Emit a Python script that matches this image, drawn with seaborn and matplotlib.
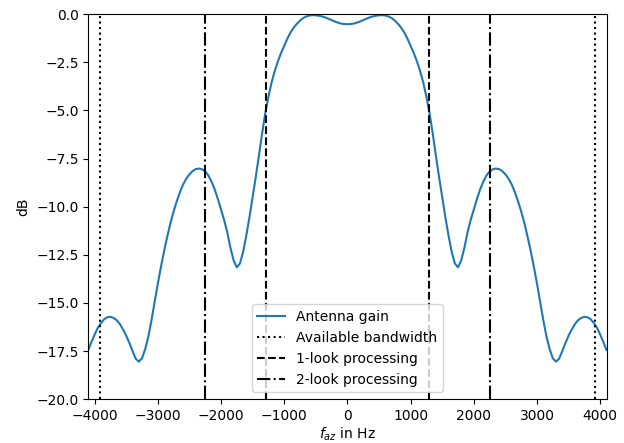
import matplotlib
matplotlib.use("Agg")
import matplotlib.pyplot as plt
import seaborn as sns
import pandas as pd

# antenna gain (symmetric about 0 Hz), 50 Hz steps
f_az = [-4100, -4050, -4000, -3950, -3900, -3850, -3800, -3750, -3700, -3650,
        -3600, -3550, -3500, -3450, -3400, -3350, -3300, -3250, -3200, -3150,
        -3100, -3050, -3000, -2950, -2900, -2850, -2800, -2750, -2700, -2650,
        -2600, -2550, -2500, -2450, -2400, -2350, -2300, -2250, -2200, -2150,
        -2100, -2050, -2000, -1950, -1900, -1850, -1800, -1750, -1700, -1650,
        -1600, -1550, -1500, -1450, -1400, -1350, -1300, -1250, -1200, -1150,
        -1100, -1050, -1000, -950, -900, -850, -800, -750, -700, -650,
        -600, -550, -500, -450, -400, -350, -300, -250, -200, -150,
        -100, -50, 0, 50, 100, 150, 200, 250, 300, 350,
        400, 450, 500, 550, 600, 650, 700, 750, 800, 850,
        900, 950, 1000, 1050, 1100, 1150, 1200, 1250, 1300, 1350,
        1400, 1450, 1500, 1550, 1600, 1650, 1700, 1750, 1800, 1850,
        1900, 1950, 2000, 2050, 2100, 2150, 2200, 2250, 2300, 2350,
        2400, 2450, 2500, 2550, 2600, 2650, 2700, 2750, 2800, 2850,
        2900, 2950, 3000, 3050, 3100, 3150, 3200, 3250, 3300, 3350,
        3400, 3450, 3500, 3550, 3600, 3650, 3700, 3750, 3800, 3850,
        3900, 3950, 4000, 4050, 4100]
gain_db = [-17.45, -17.03, -16.65, -16.30, -16.05, -15.85, -15.75, -15.72, -15.78, -15.90,
           -16.10, -16.38, -16.70, -17.08, -17.50, -17.90, -18.05, -17.88, -17.40, -16.75,
           -15.90, -14.95, -14.00, -13.12, -12.30, -11.55, -10.85, -10.25, -9.72, -9.25,
           -8.85, -8.55, -8.32, -8.15, -8.05, -8.02, -8.06, -8.17, -8.38, -8.70,
           -9.10, -9.60, -10.15, -10.70, -11.35, -12.15, -12.80, -13.15, -12.95, -12.35,
           -11.50, -10.55, -9.50, -8.45, -7.35, -6.20, -5.15, -4.30, -3.55, -2.95,
           -2.45, -2.02, -1.65, -1.27, -0.95, -0.70, -0.50, -0.33, -0.20, -0.12,
           -0.07, -0.05, -0.06, -0.08, -0.12, -0.17, -0.24, -0.31, -0.38, -0.44,
           -0.49, -0.51, -0.52, -0.51, -0.49, -0.44, -0.38, -0.31, -0.24, -0.17,
           -0.12, -0.08, -0.06, -0.05, -0.07, -0.12, -0.20, -0.33, -0.50, -0.70,
           -0.95, -1.27, -1.65, -2.02, -2.45, -2.95, -3.55, -4.30, -5.15, -6.20,
           -7.35, -8.45, -9.50, -10.55, -11.50, -12.35, -12.95, -13.15, -12.80, -12.15,
           -11.35, -10.70, -10.15, -9.60, -9.10, -8.70, -8.38, -8.17, -8.06, -8.02,
           -8.05, -8.15, -8.32, -8.55, -8.85, -9.25, -9.72, -10.25, -10.85, -11.55,
           -12.30, -13.12, -14.00, -14.95, -15.90, -16.75, -17.40, -17.88, -18.05, -17.90,
           -17.50, -17.08, -16.70, -16.38, -16.10, -15.90, -15.78, -15.72, -15.75, -15.85,
           -16.05, -16.30, -16.65, -17.03, -17.45]

# band limits in Hz
available_bw = 3910
one_look = 1285
two_look = 2250

df = pd.DataFrame({'f_az': f_az, 'gain': gain_db})

fig = plt.figure(figsize=(6.24, 4.43), dpi=100)
ax = fig.add_axes([0.1415, 0.099, 0.8305, 0.869])

sns.lineplot(x='f_az', y='gain', data=df, ax=ax, color='tab:blue', label='Antenna gain')
ax.axvline(-available_bw, color='k', linestyle=':', label='Available bandwidth')
ax.axvline(available_bw, color='k', linestyle=':')
ax.axvline(-one_look, color='k', linestyle='--', label='1-look processing')
ax.axvline(one_look, color='k', linestyle='--')
ax.axvline(-two_look, color='k', linestyle='-.', label='2-look processing')
ax.axvline(two_look, color='k', linestyle='-.')

ax.set_xlim(-4100, 4100)
ax.set_ylim(-20, 0)
ax.set_xlabel('$f_{az}$ in Hz', labelpad=2)
ax.set_ylabel('dB')
ax.legend(loc='lower center')

fig.savefig('out.png', dpi=100)
